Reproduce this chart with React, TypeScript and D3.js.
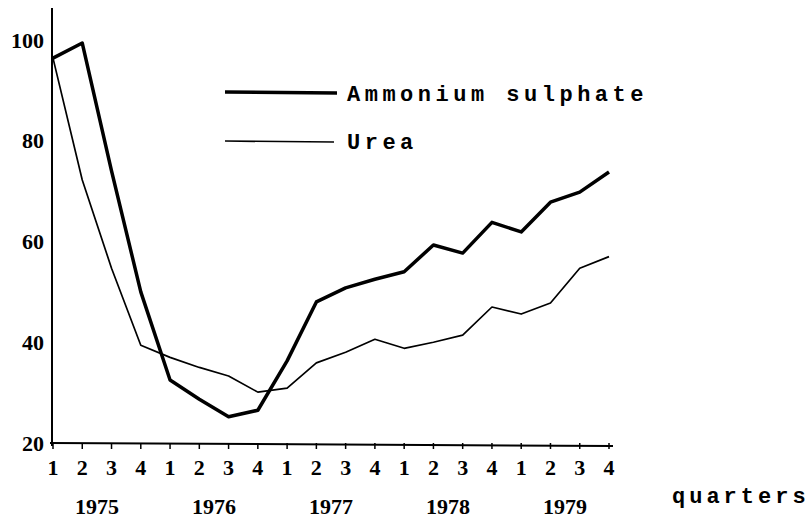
import React from "react";
import * as d3 from "d3";

// quarterly index values
const years = ["1975", "1976", "1977", "1978", "1979"];
const quarterLabels = ["1", "2", "3", "4"];
const ammonium = [
  96.4, 99.4, 74, 50, 32.5, 28.7, 25.2, 26.5, 36.3, 48, 50.8, 52.5, 54, 59.3,
  57.7, 63.8, 61.9, 67.8, 69.8, 73.8,
];
const urea = [
  96.4, 72.2, 54.7, 39.4, 37, 35, 33.3, 30.1, 30.9, 35.9, 38, 40.6, 38.8, 40,
  41.4, 47, 45.6, 47.8, 54.7, 57,
];
const yTicks = [20, 40, 60, 80, 100];

const W = 810,
  H = 520;

const App: React.FC = () => {
  const n = years.length * quarterLabels.length;
  const x = d3.scaleLinear().domain([0, n - 1]).range([53, 609]);
  const y = d3.scaleLinear().domain([20, 100]).range([443, 40]);

  const line = d3
    .line<number>()
    .x((_, i) => x(i))
    .y((d) => y(d));

  const numFont = "'Liberation Serif', 'Times New Roman', serif";
  const typeFont = "'Liberation Mono', 'Courier New', monospace";

  return (
    <svg
      width={W}
      height={H}
      style={{ position: "absolute", left: 0, top: 0, background: "#fff" }}
    >
      {/* axes */}
      <line x1={52} y1={8} x2={52} y2={446} stroke="#000" strokeWidth={2} />
      <line x1={50} y1={443} x2={613} y2={446} stroke="#000" strokeWidth={2} />
      {d3.range(n).map((i) => (
        <line
          key={"t" + i}
          x1={x(i)}
          x2={x(i)}
          y1={443}
          y2={449}
          stroke="#000"
          strokeWidth={1.5}
        />
      ))}

      {/* y labels */}
      {yTicks.map((t) => (
        <text
          key={"y" + t}
          x={44}
          y={y(t)}
          dy="0.35em"
          textAnchor="end"
          fontFamily={numFont}
          fontWeight="bold"
          fontSize={22}
        >
          {t}
        </text>
      ))}

      {/* quarter labels */}
      {d3.range(n).map((i) => (
        <text
          key={"q" + i}
          x={x(i)}
          y={475}
          textAnchor="middle"
          fontFamily={numFont}
          fontWeight="bold"
          fontSize={22}
        >
          {quarterLabels[i % 4]}
        </text>
      ))}

      {/* year labels */}
      {years.map((yr, j) => (
        <text
          key={yr}
          x={(x(j * 4 + 1) + x(j * 4 + 2)) / 2}
          y={514}
          textAnchor="middle"
          fontFamily={numFont}
          fontWeight="bold"
          fontSize={22}
        >
          {yr}
        </text>
      ))}

      <text
        x={672}
        y={503}
        fontFamily={typeFont}
        fontWeight="bold"
        fontSize={22}
        letterSpacing={4}
      >
        quarters
      </text>

      {/* series */}
      <path
        d={line(urea) ?? ""}
        fill="none"
        stroke="#000"
        strokeWidth={1.7}
        strokeLinejoin="round"
      />
      <path
        d={line(ammonium) ?? ""}
        fill="none"
        stroke="#000"
        strokeWidth={3.5}
        strokeLinejoin="round"
      />

      {/* legend */}
      <line x1={225} y1={92} x2={337} y2={93} stroke="#000" strokeWidth={3.5} />
      <text
        x={347}
        y={93}
        dy="0.35em"
        fontFamily={typeFont}
        fontWeight="bold"
        fontSize={22}
        letterSpacing={4.5}
      >
        Ammonium sulphate
      </text>
      <line x1={225} y1={141} x2={334} y2={142} stroke="#000" strokeWidth={1.7} />
      <text
        x={347}
        y={141}
        dy="0.35em"
        fontFamily={typeFont}
        fontWeight="bold"
        fontSize={22}
        letterSpacing={4.5}
      >
        Urea
      </text>
    </svg>
  );
};

export default App;
